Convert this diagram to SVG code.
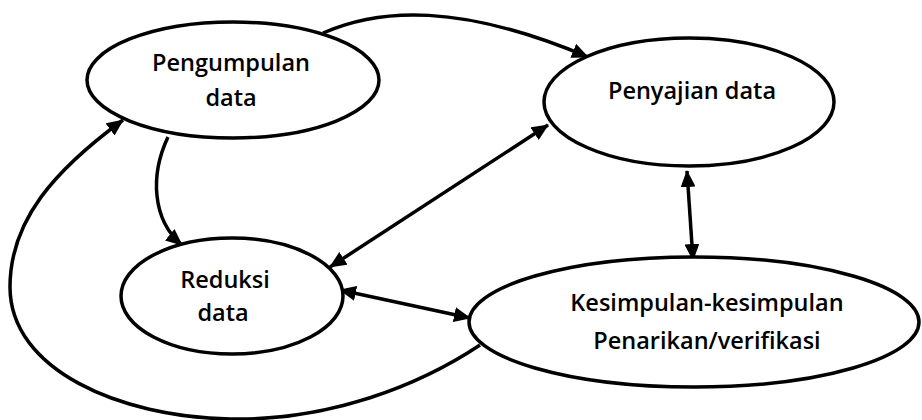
<svg xmlns="http://www.w3.org/2000/svg" width="922" height="420" viewBox="0 0 922 420">
<style>
.node{fill:#fff;stroke:#000;stroke-width:3.5}
.lbl{font-family:"Open Sans","Noto Sans",sans-serif;font-weight:600;font-size:23.5px;fill:#000;text-anchor:middle}
.con{fill:none;stroke:#000;stroke-width:3.5}
</style>
<defs>
<marker id="ah" markerUnits="userSpaceOnUse" markerWidth="17" markerHeight="15" refX="16" refY="7.5" orient="auto-start-reverse">
<path d="M0,0 L17,7.5 L0,15 Z" fill="#000"/>
</marker>
</defs>
<g id="connectors">
<path class="con" d="M323,33 C380,8 460,3 588,57" marker-end="url(#ah)"/>
<path class="con" d="M168,137 C150,175 152,220 182,245" marker-end="url(#ah)"/>
<path class="con" d="M330,267 L548,125" marker-start="url(#ah)" marker-end="url(#ah)"/>
<path class="con" d="M687,171 L693,260" marker-start="url(#ah)" marker-end="url(#ah)"/>
<path class="con" d="M340,290 L470,318" marker-start="url(#ah)" marker-end="url(#ah)"/>
<path class="con" d="M480,345 C420,385 330,421 230,419 C120,417 10,370 10,287 C10,220 55,170 123,120" marker-end="url(#ah)"/>
</g>
<g id="pengumpulan">
<ellipse class="node" cx="233" cy="80" rx="146" ry="58"/>
<text class="lbl" x="231" y="71">Pengumpulan</text>
<text class="lbl" x="231" y="106">data</text>
</g>
<g id="penyajian">
<ellipse class="node" cx="689" cy="102" rx="145" ry="64"/>
<text class="lbl" x="692" y="99">Penyajian data</text>
</g>
<g id="reduksi">
<ellipse class="node" cx="232" cy="296" rx="111" ry="58"/>
<text class="lbl" x="225" y="288">Reduksi</text>
<text class="lbl" x="223" y="321">data</text>
</g>
<g id="kesimpulan">
<ellipse class="node" cx="694" cy="322" rx="225" ry="65"/>
<text class="lbl" x="707" y="311">Kesimpulan-kesimpulan</text>
<text class="lbl" x="707" y="349">Penarikan/verifikasi</text>
</g>
</svg>
